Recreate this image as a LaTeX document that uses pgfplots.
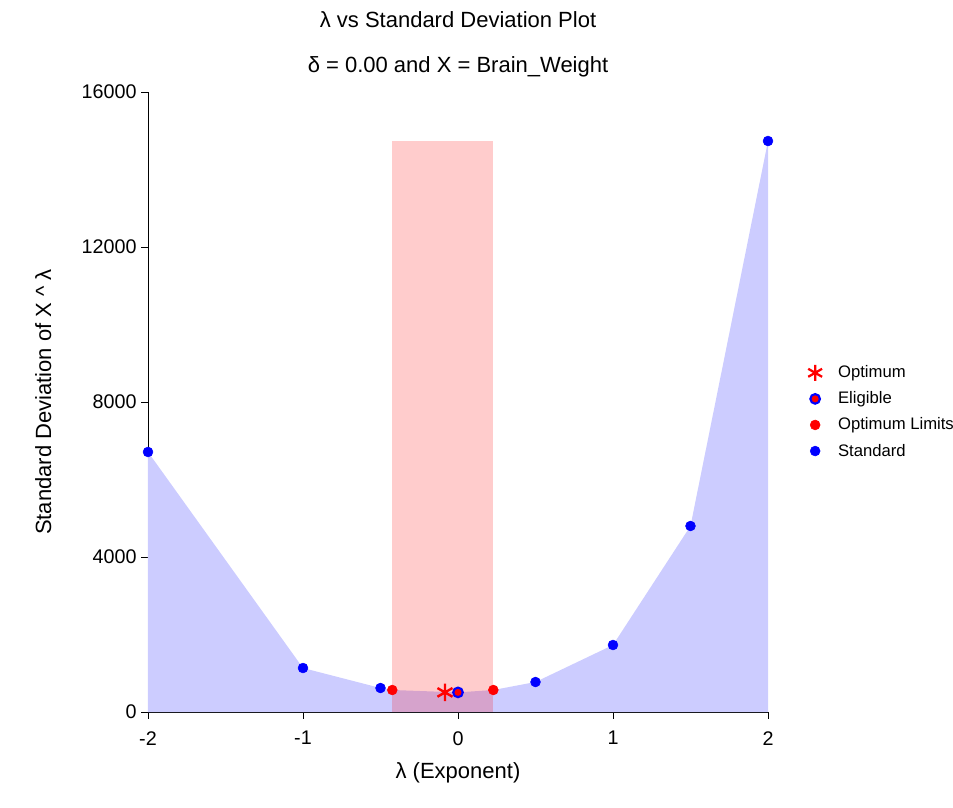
\documentclass[border=0pt]{standalone}
\usepackage{fontspec}
\setmainfont{Liberation Sans}
\usepackage{pgfplots}
\pgfplotsset{compat=1.18}
\definecolor{areablue}{RGB}{204,204,255}
\begin{document}
\begin{tikzpicture}
\begin{axis}[
  name=ax,
  at={(0,0)}, anchor=south west,
  scale only axis, width=465pt, height=465pt,
  xmin=-2, xmax=2, ymin=0, ymax=16000,
  axis x line*=bottom, axis y line*=left,
  axis line style={line width=0.6pt},
  xtick={-2,-1,0,1,2}, ytick={0,4000,8000,12000,16000},
  tick align=outside, major tick length=5pt,
  tick style={black, line width=0.6pt},
  /pgf/number format/assume math mode=true,
  scaled y ticks=false,
  yticklabel style={/pgf/number format/fixed, /pgf/number format/1000 sep={}},
  ticklabel style={font=\fontsize{14.8}{16}\selectfont},
  xticklabel style={yshift=-6pt},
  xlabel={λ (Exponent)}, ylabel={Standard Deviation of X \textasciicircum{} λ},
  label style={font=\fontsize{16.5}{18}\selectfont},
  xlabel style={yshift=-6pt},
  ylabel style={yshift=16pt},
  clip=false,
  legend style={draw=none, fill=none, at={(1.058,0.484)}, anchor=west,
    font=\fontsize{12.5}{14}\selectfont, row sep=5pt,
    legend cell align=left,
    /tikz/every odd column/.append style={column sep=10pt}},
]
\addplot[fill=areablue, draw=none, forget plot] coordinates {
  (-2,0) (-2,6710) (-1,1135) (-0.5,619) (-0.424,568) (0,506) (0.228,568)
  (0.5,774) (1,1729) (1.5,4800) (2,14735) (2,0)} -- cycle;
\addplot[fill=red, fill opacity=0.2, draw=none, forget plot] coordinates {
  (-0.424,0) (-0.424,14735) (0.228,14735) (0.228,0)} -- cycle;
\addplot[only marks, mark=*, mark size=3.7pt, blue, forget plot] coordinates {
  (-2,6710) (-1,1135) (-0.5,619) (0.5,774) (1,1729) (1.5,4800) (2,14735)};
\addplot[only marks, mark=*, mark size=3.7pt, red, forget plot] coordinates {
  (-0.424,568) (0.228,568)};
\addplot[only marks, mark=asterisk, mark size=6.5pt, red, line width=1.8pt, forget plot] coordinates {
  (-0.084,506)};
\addplot[only marks, mark=*, mark size=3.6pt, draw=blue, fill=red, line width=1.6pt, forget plot] coordinates {
  (0,506)};
\addlegendimage{only marks, mark=asterisk, mark size=6pt, red, line width=1.7pt}
\addlegendentry{Optimum}
\addlegendimage{only marks, mark=*, mark size=3.6pt, draw=blue, fill=red, line width=1.6pt}
\addlegendentry{Eligible}
\addlegendimage{only marks, mark=*, mark size=3.7pt, red}
\addlegendentry{Optimum Limits}
\addlegendimage{only marks, mark=*, mark size=3.7pt, blue}
\addlegendentry{Standard}
\node[font=\fontsize{16.5}{18}\selectfont] at (axis description cs:0.5,1.116) {λ vs Standard Deviation Plot};
\node[font=\fontsize{16.5}{18}\selectfont] at (axis description cs:0.5,1.040) {δ = 0.00 and X = Brain\_Weight};
\end{axis}
\pgfresetboundingbox
\path[use as bounding box] (-111pt,-71.25pt) rectangle (603.75pt,534pt);
\end{tikzpicture}
\end{document}
